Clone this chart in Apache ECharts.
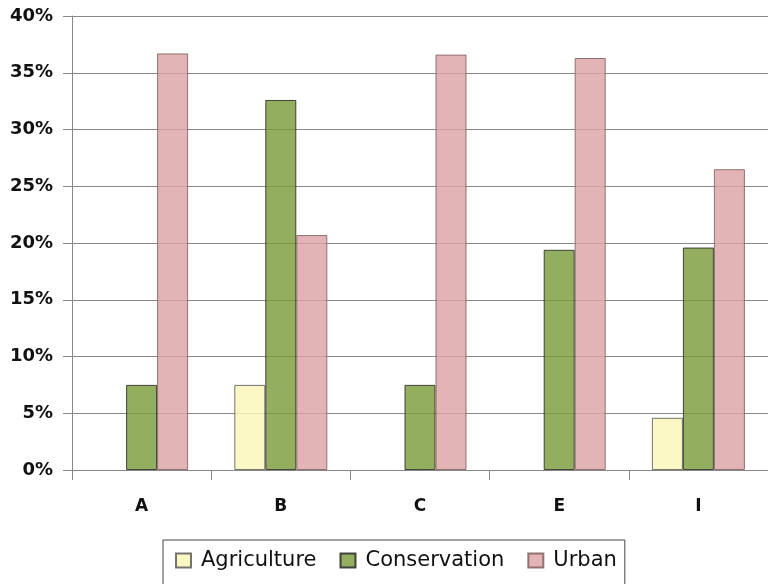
<!DOCTYPE html>
<html>
<head>
<meta charset="utf-8">
<script src="https://cdn.jsdelivr.net/npm/echarts@6/dist/echarts.min.js"></script>
<style>
  html, body { margin: 0; padding: 0; background: #fff; }
  #chart { width: 768px; height: 584px; }
</style>
</head>
<body>
<div id="chart"></div>
<script>
// Share of land by use, per site (null = no land in that use)
const categories = ['A', 'B', 'C', 'E', 'I'];
const agriculture = [null, 7.5, null, null, 4.6];
const conservation = [7.5, 32.6, 7.5, 19.4, 19.6];
const urban = [36.7, 20.7, 36.6, 36.3, 26.5];
const yTicks = [0, 5, 10, 15, 20, 25, 30, 35, 40];

const font = '"DejaVu Sans", "Open Sans", sans-serif';

function barSeries(name, data, fill, border) {
  return {
    name: name,
    type: 'bar',
    data: data,
    barWidth: 31,
    barGap: '0%',
    itemStyle: { color: fill, borderColor: border, borderWidth: 1, opacity: 0.82 }
  };
}

const chart = echarts.init(document.getElementById('chart'));
chart.setOption({
  animation: false,
  backgroundColor: '#fff',
  grid: { left: 72, right: 0, top: 16, bottom: 114 },
  legend: {
    left: 163,
    top: 540,
    itemWidth: 15,
    itemHeight: 14,
    itemGap: 23,
    icon: 'rect',
    borderColor: '#444',
    borderWidth: 1,
    padding: [10, 8, 20, 12],
    textStyle: { fontFamily: font, fontSize: 21, color: '#111', padding: [0, 0, 0, 5] },
    data: ['Agriculture', 'Conservation', 'Urban']
  },
  xAxis: {
    type: 'category',
    data: categories,
    axisLine: { lineStyle: { color: '#888', width: 1 } },
    axisTick: { show: true, length: 10, alignWithLabel: false, lineStyle: { color: '#888' } },
    axisLabel: { fontFamily: font, fontWeight: 'bold', fontSize: 17, color: '#111', margin: 28 }
  },
  yAxis: {
    type: 'value',
    min: yTicks[0],
    max: yTicks[yTicks.length - 1],
    interval: 5,
    axisLine: { show: true, lineStyle: { color: '#888', width: 1 } },
    axisTick: { show: true, length: 9, lineStyle: { color: '#888' } },
    axisLabel: {
      fontFamily: font, fontWeight: 'bold', fontSize: 18, color: '#111', margin: 19,
      formatter: v => v + '%'
    },
    splitLine: { lineStyle: { color: '#888', width: 1 } }
  },
  series: [
    barSeries('Agriculture', agriculture, 'rgb(250,246,186)', '#555'),
    barSeries('Conservation', conservation, 'rgb(124,156,61)', '#222'),
    barSeries('Urban', urban, 'rgb(221,164,165)', '#7a5a5a')
  ]
});
</script>
</body>
</html>
